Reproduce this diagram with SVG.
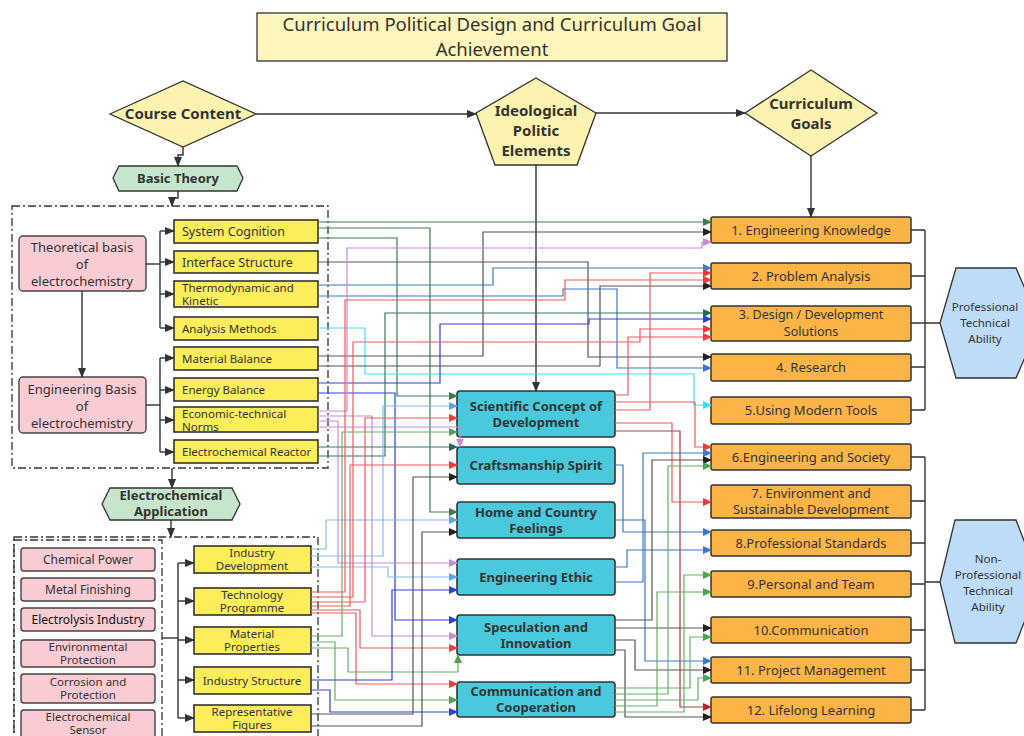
<svg xmlns="http://www.w3.org/2000/svg" width="1024" height="736" viewBox="0 0 1024 736">
<style>
.t{font-family:"Noto Sans","Open Sans","Liberation Sans",sans-serif;fill:#333}
.b{font-weight:bold}
.ttl{fill:#fdf6bd;stroke:#333;stroke-width:1.3}
.dia{fill:#fdf3b0;stroke:#333;stroke-width:1.3}
.grn{fill:#c6e6cb;stroke:#333;stroke-width:1.3}
.pk{fill:#f9cbd2;stroke:#444;stroke-width:1.4}
.yl{fill:#fcee5a;stroke:#333;stroke-width:1.6}
.cy{fill:#4ac9dc;stroke:#333;stroke-width:1.6}
.or{fill:#fbb445;stroke:#333;stroke-width:1.5}
.bh{fill:#bcdcf8;stroke:#333;stroke-width:1.3}
.dd{fill:none;stroke:#333;stroke-width:1.3;stroke-dasharray:8 3 2 3}
.fl{fill:none;stroke:#333;stroke-width:1.4}
.c path{fill:none;stroke-width:1.2}
.g{stroke:#3c7d4c;marker-end:url(#mg)}
.k{stroke:#555;marker-end:url(#mk)}
.v{stroke:#c88ad8;marker-end:url(#mv)}
.bl{stroke:#2d40d8;marker-end:url(#mb)}
.mb{stroke:#3f78c6;marker-end:url(#mm)}
.r{stroke:#ef5a5a;marker-end:url(#mr)}
.dr{stroke:#b03a3a;marker-end:url(#mdr)}
.cn{stroke:#3ee6f0;marker-end:url(#mc)}
.lb{stroke:#82bdee;marker-end:url(#ml)}
.lg{stroke:#62b364;marker-end:url(#mlg)}
.tl{stroke:#2f7a68;marker-end:url(#mt)}
</style>
<defs>
<marker id="ma" markerWidth="10" markerHeight="10" refX="9" refY="5" orient="auto" markerUnits="userSpaceOnUse"><path d="M0,1 L10,5 L0,9 z" fill="#333"/></marker>
<marker id="mg" markerWidth="9" markerHeight="8" refX="8" refY="4" orient="auto" markerUnits="userSpaceOnUse"><path d="M0,0 L9,4 L0,8 z" fill="#3c7d4c"/></marker>
<marker id="mk" markerWidth="9" markerHeight="8" refX="8" refY="4" orient="auto" markerUnits="userSpaceOnUse"><path d="M0,0 L9,4 L0,8 z" fill="#222"/></marker>
<marker id="mv" markerWidth="9" markerHeight="8" refX="8" refY="4" orient="auto" markerUnits="userSpaceOnUse"><path d="M0,0 L9,4 L0,8 z" fill="#c88ad8"/></marker>
<marker id="mb" markerWidth="9" markerHeight="8" refX="8" refY="4" orient="auto" markerUnits="userSpaceOnUse"><path d="M0,0 L9,4 L0,8 z" fill="#2d40d8"/></marker>
<marker id="mm" markerWidth="9" markerHeight="8" refX="8" refY="4" orient="auto" markerUnits="userSpaceOnUse"><path d="M0,0 L9,4 L0,8 z" fill="#3f78c6"/></marker>
<marker id="mr" markerWidth="9" markerHeight="8" refX="8" refY="4" orient="auto" markerUnits="userSpaceOnUse"><path d="M0,0 L9,4 L0,8 z" fill="#ef3a3a"/></marker>
<marker id="mdr" markerWidth="9" markerHeight="8" refX="8" refY="4" orient="auto" markerUnits="userSpaceOnUse"><path d="M0,0 L9,4 L0,8 z" fill="#c01c2c"/></marker>
<marker id="mc" markerWidth="9" markerHeight="8" refX="8" refY="4" orient="auto" markerUnits="userSpaceOnUse"><path d="M0,0 L9,4 L0,8 z" fill="#2ee0f0"/></marker>
<marker id="ml" markerWidth="9" markerHeight="8" refX="8" refY="4" orient="auto" markerUnits="userSpaceOnUse"><path d="M0,0 L9,4 L0,8 z" fill="#5aa6e8"/></marker>
<marker id="mlg" markerWidth="9" markerHeight="8" refX="8" refY="4" orient="auto" markerUnits="userSpaceOnUse"><path d="M0,0 L9,4 L0,8 z" fill="#4aa54e"/></marker>
<marker id="mt" markerWidth="9" markerHeight="8" refX="8" refY="4" orient="auto" markerUnits="userSpaceOnUse"><path d="M0,0 L9,4 L0,8 z" fill="#1f6a58"/></marker>
</defs>
<rect width="1024" height="736" fill="#fff"/>

<g id="title"><rect class="ttl" x="257" y="13" width="470" height="48"/>
<text class="t" x="492" y="31" font-size="18.5" text-anchor="middle">Curriculum Political Design and Curriculum Goal</text>
<text class="t" x="492" y="56" font-size="18.5" text-anchor="middle">Achievement</text></g>

<g id="course-content"><polygon class="dia" points="110,114 183,81 256,114 183,147"/>
<text class="t b" x="183" y="119" font-size="15" text-anchor="middle">Course Content</text></g>
<g id="ideological"><polygon class="dia" points="536,78 596,113 577,165 495,165 476,113"/>
<text class="t b" x="536" y="116" font-size="15" text-anchor="middle">Ideological</text>
<text class="t b" x="536" y="136" font-size="15" text-anchor="middle">Politic</text>
<text class="t b" x="536" y="156" font-size="15" text-anchor="middle">Elements</text></g>
<g id="curriculum-goals"><polygon class="dia" points="745,113 811,70 877,113 811,156"/>
<text class="t b" x="811" y="109" font-size="15" text-anchor="middle">Curriculum</text>
<text class="t b" x="811" y="129" font-size="15" text-anchor="middle">Goals</text></g>

<g id="basic-theory"><polygon class="grn" points="113,178 119,166 237,166 243,178 237,191 119,191"/>
<text class="t b" x="178" y="183" font-size="13" text-anchor="middle">Basic Theory</text></g>
<g id="electrochem-app"><polygon class="grn" points="102,504 110,488 232,488 240,504 232,520 110,520"/>
<text class="t b" x="171" y="500" font-size="13" text-anchor="middle">Electrochemical</text>
<text class="t b" x="171" y="516" font-size="13" text-anchor="middle">Application</text></g>

<g id="frames"><rect class="dd" x="12" y="206" width="316" height="262"/>
<rect class="dd" x="14" y="537" width="304" height="210"/>
<rect class="dd" x="14" y="540" width="148" height="210"/></g>

<g id="theoretical"><rect class="pk" x="19" y="236" width="127" height="55" rx="4"/>
<text class="t" x="82" y="252" font-size="13" text-anchor="middle">Theoretical basis</text>
<text class="t" x="82" y="269" font-size="13" text-anchor="middle">of</text>
<text class="t" x="82" y="286" font-size="13" text-anchor="middle">electrochemistry</text></g>
<g id="engineering-basis"><rect class="pk" x="19" y="377" width="127" height="56" rx="4"/>
<text class="t" x="82" y="394" font-size="13" text-anchor="middle">Engineering Basis</text>
<text class="t" x="82" y="411" font-size="13" text-anchor="middle">of</text>
<text class="t" x="82" y="428" font-size="13" text-anchor="middle">electrochemistry</text></g>

<g id="system-cognition"><rect class="yl" x="174" y="220" width="144" height="23"/><text class="t" x="182" y="236" font-size="12.5">System Cognition</text></g>
<g id="interface-structure"><rect class="yl" x="174" y="251" width="144" height="22"/><text class="t" x="182" y="267" font-size="12.5">Interface Structure</text></g>
<g id="thermo"><rect class="yl" x="174" y="281" width="144" height="26"/><text class="t" x="182" y="292" font-size="11.5">Thermodynamic and</text><text class="t" x="182" y="305" font-size="11.5">Kinetic</text></g>
<g id="analysis"><rect class="yl" x="174" y="317" width="144" height="23"/><text class="t" x="182" y="333" font-size="11.5">Analysis Methods</text></g>
<g id="material-balance"><rect class="yl" x="174" y="347" width="144" height="23"/><text class="t" x="182" y="363" font-size="11.5">Material Balance</text></g>
<g id="energy-balance"><rect class="yl" x="174" y="378" width="144" height="23"/><text class="t" x="182" y="394" font-size="11.5">Energy Balance</text></g>
<g id="economic"><rect class="yl" x="174" y="407" width="144" height="25"/><text class="t" x="182" y="418" font-size="11.5">Economic-technical</text><text class="t" x="182" y="431" font-size="11.5">Norms</text></g>
<g id="reactor"><rect class="yl" x="174" y="440" width="144" height="23"/><text class="t" x="182" y="456" font-size="11.5">Electrochemical Reactor</text></g>

<g id="chemical-power"><rect class="pk" x="21" y="548" width="134" height="23" rx="3"/><text class="t" x="88" y="564" font-size="12" text-anchor="middle">Chemical Power</text></g>
<g id="metal-finishing"><rect class="pk" x="21" y="578" width="134" height="23" rx="3"/><text class="t" x="88" y="594" font-size="12" text-anchor="middle">Metal Finishing</text></g>
<g id="electrolysis"><rect class="pk" x="21" y="608" width="134" height="23" rx="3"/><text class="t" x="88" y="624" font-size="12" text-anchor="middle" style="fill:#111">Electrolysis Industry</text></g>
<g id="environmental"><rect class="pk" x="21" y="640" width="134" height="27" rx="3"/><text class="t" x="88" y="651" font-size="11.5" text-anchor="middle">Environmental</text><text class="t" x="88" y="664" font-size="11.5" text-anchor="middle">Protection</text></g>
<g id="corrosion"><rect class="pk" x="21" y="674" width="134" height="29" rx="3"/><text class="t" x="88" y="686" font-size="11.5" text-anchor="middle">Corrosion and</text><text class="t" x="88" y="699" font-size="11.5" text-anchor="middle">Protection</text></g>
<g id="sensor"><rect class="pk" x="21" y="710" width="134" height="32" rx="3"/><text class="t" x="88" y="721" font-size="11.5" text-anchor="middle">Electrochemical</text><text class="t" x="88" y="734" font-size="11.5" text-anchor="middle">Sensor</text></g>

<g id="industry-development"><rect class="yl" x="194" y="546" width="117" height="27"/><text class="t" x="252" y="557" font-size="11.5" text-anchor="middle">Industry</text><text class="t" x="252" y="570" font-size="11.5" text-anchor="middle">Development</text></g>
<g id="technology-programme"><rect class="yl" x="194" y="588" width="117" height="27"/><text class="t" x="252" y="599" font-size="11.5" text-anchor="middle">Technology</text><text class="t" x="252" y="612" font-size="11.5" text-anchor="middle">Programme</text></g>
<g id="material-properties"><rect class="yl" x="194" y="627" width="117" height="27"/><text class="t" x="252" y="638" font-size="11.5" text-anchor="middle">Material</text><text class="t" x="252" y="651" font-size="11.5" text-anchor="middle">Properties</text></g>
<g id="industry-structure"><rect class="yl" x="194" y="667" width="117" height="27"/><text class="t" x="252" y="685" font-size="11.5" text-anchor="middle">Industry Structure</text></g>
<g id="representative-figures"><rect class="yl" x="194" y="705" width="117" height="27"/><text class="t" x="252" y="716" font-size="11.5" text-anchor="middle">Representative</text><text class="t" x="252" y="729" font-size="11.5" text-anchor="middle">Figures</text></g>

<g id="scientific"><rect class="cy" x="457" y="391" width="158" height="46" rx="3"/><text class="t b" x="536" y="411" font-size="13" text-anchor="middle">Scientific Concept of</text><text class="t b" x="536" y="427" font-size="13" text-anchor="middle">Development</text></g>
<g id="craftsmanship"><rect class="cy" x="457" y="447" width="158" height="37" rx="3"/><text class="t b" x="536" y="470" font-size="13" text-anchor="middle">Craftsmanship Spirit</text></g>
<g id="home-country"><rect class="cy" x="457" y="502" width="158" height="36" rx="3"/><text class="t b" x="536" y="517" font-size="13" text-anchor="middle">Home and Country</text><text class="t b" x="536" y="533" font-size="13" text-anchor="middle">Feelings</text></g>
<g id="engineering-ethic"><rect class="cy" x="457" y="559" width="158" height="36" rx="3"/><text class="t b" x="536" y="582" font-size="13" text-anchor="middle">Engineering Ethic</text></g>
<g id="speculation"><rect class="cy" x="457" y="615" width="158" height="40" rx="3"/><text class="t b" x="536" y="632" font-size="13" text-anchor="middle">Speculation and</text><text class="t b" x="536" y="648" font-size="13" text-anchor="middle">Innovation</text></g>
<g id="communication-coop"><rect class="cy" x="457" y="682" width="158" height="35" rx="3"/><text class="t b" x="536" y="696" font-size="13" text-anchor="middle">Communication and</text><text class="t b" x="536" y="712" font-size="13" text-anchor="middle">Cooperation</text></g>

<g id="goal1"><rect class="or" x="711" y="217" width="200" height="26" rx="2"/><text class="t" x="811" y="235" font-size="13" text-anchor="middle">1. Engineering Knowledge</text></g>
<g id="goal2"><rect class="or" x="711" y="263" width="200" height="26" rx="2"/><text class="t" x="811" y="281" font-size="13" text-anchor="middle">2. Problem Analysis</text></g>
<g id="goal3"><rect class="or" x="711" y="306" width="200" height="35" rx="2"/><text class="t" x="811" y="319" font-size="12.5" text-anchor="middle">3. Design / Development</text><text class="t" x="811" y="336" font-size="12.5" text-anchor="middle">Solutions</text></g>
<g id="goal4"><rect class="or" x="711" y="354" width="200" height="27" rx="2"/><text class="t" x="811" y="372" font-size="13" text-anchor="middle">4. Research</text></g>
<g id="goal5"><rect class="or" x="711" y="397" width="200" height="27" rx="2"/><text class="t" x="811" y="415" font-size="13" text-anchor="middle">5.Using Modern Tools</text></g>
<g id="goal6"><rect class="or" x="711" y="444" width="200" height="26" rx="2"/><text class="t" x="811" y="462" font-size="13" text-anchor="middle">6.Engineering and Society</text></g>
<g id="goal7"><rect class="or" x="711" y="485" width="200" height="33" rx="2"/><text class="t" x="811" y="498" font-size="13" text-anchor="middle">7. Environment and</text><text class="t" x="811" y="514" font-size="13" text-anchor="middle">Sustainable Development</text></g>
<g id="goal8"><rect class="or" x="711" y="530" width="200" height="26" rx="2"/><text class="t" x="811" y="548" font-size="13" text-anchor="middle">8.Professional Standards</text></g>
<g id="goal9"><rect class="or" x="711" y="571" width="200" height="26" rx="2"/><text class="t" x="811" y="589" font-size="13" text-anchor="middle">9.Personal and Team</text></g>
<g id="goal10"><rect class="or" x="711" y="617" width="200" height="26" rx="2"/><text class="t" x="811" y="635" font-size="13" text-anchor="middle">10.Communication</text></g>
<g id="goal11"><rect class="or" x="711" y="657" width="200" height="26" rx="2"/><text class="t" x="811" y="675" font-size="13" text-anchor="middle">11. Project Management</text></g>
<g id="goal12"><rect class="or" x="711" y="697" width="200" height="26" rx="2"/><text class="t" x="811" y="715" font-size="13" text-anchor="middle">12. Lifelong Learning</text></g>

<g id="professional"><polygon class="bh" points="940,323 956,268 1016,268 1040,323 1016,378 956,378"/>
<text class="t" x="985" y="311" font-size="11.5" text-anchor="middle">Professional</text>
<text class="t" x="985" y="327" font-size="11.5" text-anchor="middle">Technical</text>
<text class="t" x="985" y="343" font-size="11.5" text-anchor="middle">Ability</text></g>
<g id="non-professional"><polygon class="bh" points="940,582 955,520 1016,520 1040,582 1016,643 955,643"/>
<text class="t" x="988" y="563" font-size="11.5" text-anchor="middle">Non-</text>
<text class="t" x="988" y="579" font-size="11.5" text-anchor="middle">Professional</text>
<text class="t" x="988" y="595" font-size="11.5" text-anchor="middle">Technical</text>
<text class="t" x="988" y="611" font-size="11.5" text-anchor="middle">Ability</text></g>

<g id="connectors">
<g id="flow">
<path class="fl" d="M256,114 H476" marker-end="url(#ma)"/>
<path class="fl" d="M596,113 H745" marker-end="url(#ma)"/>
<path class="fl" d="M536,165 V391" marker-end="url(#ma)"/>
<path class="fl" d="M811,156 V217" marker-end="url(#ma)"/>
<path class="fl" d="M183,147 V155 H178 V166" marker-end="url(#ma)"/>
<path class="fl" d="M178,191 V198 H172 V206" marker-end="url(#ma)"/>
<path class="fl" d="M172,468 V488" marker-end="url(#ma)"/>
<path class="fl" d="M171,520 V537" marker-end="url(#ma)"/>
<path class="fl" d="M82,291 V377" marker-end="url(#ma)"/>
<path class="fl" d="M146,264 H160"/>
<path class="fl" d="M160,231 V328"/>
<path class="fl" d="M160,231 H174" marker-end="url(#ma)"/>
<path class="fl" d="M160,262 H174" marker-end="url(#ma)"/>
<path class="fl" d="M160,294 H174" marker-end="url(#ma)"/>
<path class="fl" d="M160,328 H174" marker-end="url(#ma)"/>
<path class="fl" d="M146,405 H160"/>
<path class="fl" d="M160,358 V452"/>
<path class="fl" d="M160,358 H174" marker-end="url(#ma)"/>
<path class="fl" d="M160,390 H174" marker-end="url(#ma)"/>
<path class="fl" d="M160,420 H174" marker-end="url(#ma)"/>
<path class="fl" d="M160,452 H174" marker-end="url(#ma)"/>
<path class="fl" d="M162,638 H178"/>
<path class="fl" d="M178,563 V718"/>
<path class="fl" d="M178,563 H194" marker-end="url(#ma)"/>
<path class="fl" d="M178,601 H194" marker-end="url(#ma)"/>
<path class="fl" d="M178,640 H194" marker-end="url(#ma)"/>
<path class="fl" d="M178,680 H194" marker-end="url(#ma)"/>
<path class="fl" d="M178,718 H194" marker-end="url(#ma)"/>
<path class="fl" d="M911,230 H925 M911,276 H925 M911,323 H925 M911,367 H925 M911,410 H925 M925,230 V410 M925,323 H940"/>
<path class="fl" d="M911,457 H925 M911,501 H925 M911,543 H925 M911,584 H925 M911,630 H925 M911,670 H925 M911,710 H925 M925,457 V710 M925,582 H940"/>
</g>
<g class="c">
<path class="g" d="M318,222 H711"/>
<path class="g" d="M318,228 H430 V512 H457"/>
<path class="g" d="M318,238 H397 V396 H457"/>
<path class="k" d="M318,262 H588 V357 H711"/>
<path class="mb" d="M318,285 H493 V268 H711"/>
<path class="mb" d="M318,296 H563 V289 H617 V368 H711"/>
<path class="cn" d="M318,328 H365 V374 H694 V405 H711"/>
<path class="k" d="M318,356 H483 V232 H711"/>
<path class="k" d="M318,366 H600 V286 H711"/>
<path class="bl" d="M318,383 H440 V324 H589 V319 H711"/>
<path class="bl" d="M318,393 H395 V620 H457"/>
<path class="v" d="M318,411 H347 V248 H702 V242 H711"/>
<path class="v" d="M318,416 H372 V636 H457"/>
<path class="v" d="M318,421 H338 V563 H457"/>
<path class="v" d="M318,427 H460 V447"/>
<path class="tl" d="M318,447 H457"/>
<path class="tl" d="M318,456 H385 V313 H711"/>
<path class="lb" d="M311,549 H326 V520 H457"/>
<path class="lb" d="M311,556 H383 V406 H457"/>
<path class="lb" d="M311,567 H388 V577 H457"/>
<path class="r" d="M311,592 H345 V300 H565 V280 H711"/>
<path class="r" d="M311,597 H353 V342 H640 V329 H711"/>
<path class="r" d="M311,602 H365 V418 H457"/>
<path class="r" d="M311,606 H350 V465 H457"/>
<path class="r" d="M311,610 H360 V648 H457"/>
<path class="r" d="M311,613 H356 V684 H457"/>
<path class="lg" d="M311,636 H342 V432 H457"/>
<path class="lg" d="M311,648 H348 V672 H458 V655"/>
<path class="lg" d="M311,642 H335 V700 H457"/>
<path class="bl" d="M311,680 H392 V590 H457"/>
<path class="bl" d="M311,690 H330 V712 H457"/>
<path class="k" d="M311,714 H413 V477 H457"/>
<path class="k" d="M311,726 H422 V532 H457"/>
<path class="r" d="M615,395 H628 V337 H711"/>
<path class="r" d="M615,402 H695 V447 H711"/>
<path class="r" d="M615,410 H650 V273 H711"/>
<path class="r" d="M615,423 H672 V502 H711"/>
<path class="dr" d="M615,431 H680 V707 H711"/>
<path class="mb" d="M615,465 H623 V532 H711"/>
<path class="mb" d="M615,520 H645 V661 H711"/>
<path class="mb" d="M615,567 H627 V550 H711"/>
<path class="mb" d="M615,582 H643 V453 H711"/>
<path class="k" d="M615,620 H652 V460 H711"/>
<path class="k" d="M615,628 H711"/>
<path class="k" d="M615,640 H635 V670 H711"/>
<path class="k" d="M615,650 H625 V717 H711"/>
<path class="lg" d="M615,688 H690 V637 H711"/>
<path class="lg" d="M615,700 H698 V678 H711"/>
<path class="lg" d="M615,706 H657 V592 H711"/>
<path class="lg" d="M615,694 H668 V466 H711"/>
<path class="lg" d="M615,712 H684 V575 H711"/>
</g>
</g>
</svg>
